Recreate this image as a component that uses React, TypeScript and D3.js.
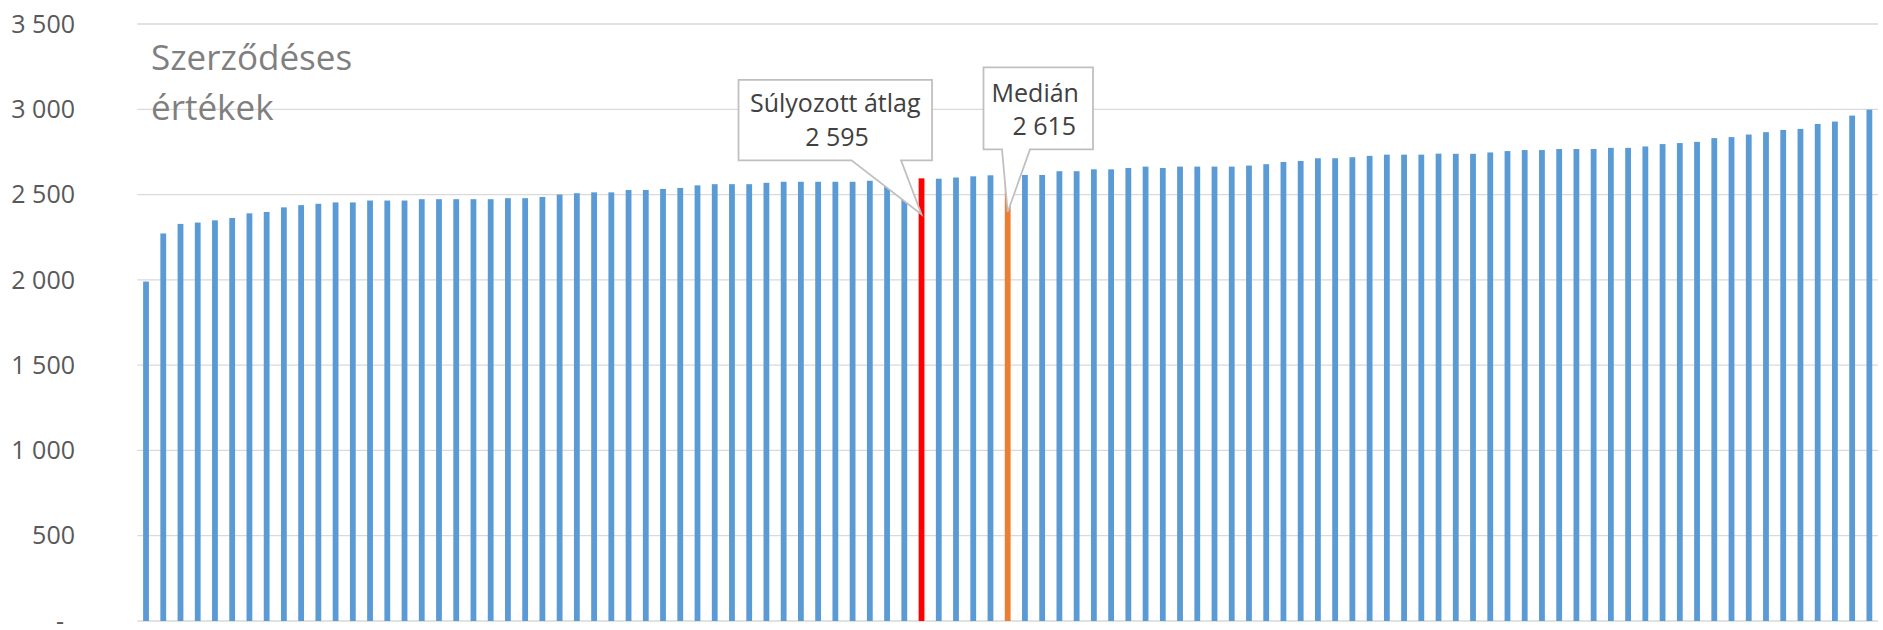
import React from 'react';
import * as d3 from 'd3';

// ---- data ----
const values: number[] = [
  1990, 2272, 2328, 2336, 2349, 2363, 2390, 2398, 2425, 2438,
  2446, 2454, 2454, 2465, 2465, 2465, 2473, 2473, 2473, 2473,
  2473, 2479, 2479, 2486, 2500, 2508, 2513, 2513, 2527, 2527,
  2533, 2539, 2554, 2561, 2561, 2561, 2569, 2575, 2575, 2575,
  2575, 2575, 2581, 2585, 2590, 2595, 2593, 2600, 2607, 2613,
  2615, 2615, 2615, 2637, 2637, 2648, 2648, 2656, 2664, 2656,
  2664, 2664, 2664, 2664, 2670, 2678, 2691, 2697, 2713, 2713,
  2719, 2727, 2734, 2734, 2734, 2740, 2739, 2739, 2747, 2755,
  2761, 2761, 2767, 2767, 2767, 2774, 2774, 2782, 2796, 2802,
  2809, 2831, 2837, 2852, 2866, 2879, 2885, 2914, 2928, 2963,
  2998,
];
const yTicks: number[] = [0, 500, 1000, 1500, 2000, 2500, 3000, 3500];
const titleLines: string[] = ['Szerződéses', 'értékek'];
const avgIndex = 45;
const medianIndex = 50;
const avgLabel: string[] = ['Súlyozott átlag', '2 595'];
const medianLabel: string[] = ['Medián', '2 615'];

const W = 1883;
const H = 630;
const FONT = "'Open Sans', 'Noto Sans', sans-serif";

const locale = d3.formatLocale({ decimal: ',', thousands: ' ', grouping: [3], currency: ['', ''] });
const fmt = (v: number) => (v === 0 ? '-' : locale.format(',')(v));

function calloutPath(x0: number, y0: number, x1: number, y1: number, bl: number, br: number, tx: number, ty: number) {
  const p = d3.path();
  p.moveTo(x0, y0);
  p.lineTo(x1, y0);
  p.lineTo(x1, y1);
  p.lineTo(br, y1);
  p.lineTo(tx, ty);
  p.lineTo(bl, y1);
  p.lineTo(x0, y1);
  p.closePath();
  return p.toString();
}

export default function App() {
  const x = d3.scaleBand<number>().domain(d3.range(values.length)).range([137.4, 1878]).padding(0);
  const y = d3.scaleLinear().domain([0, 3500]).range([621, 24]);
  const step = x.step();
  const barW = 5.8;
  const cx = (i: number) => (x(i) as number) + step / 2;
  const color = (i: number) => (i === avgIndex ? '#FF0000' : i === medianIndex ? '#ED7D31' : '#5B9BD5');

  // callout 1 (weighted average)
  const t1x = cx(avgIndex);
  const t1y = y(values[avgIndex]) + 36;
  const b1 = { x0: t1x - 183, x1: t1x + 10.5, y0: t1y - 134.4, y1: t1y - 54 };
  const p1 = calloutPath(b1.x0, b1.y0, b1.x1, b1.y1, t1x - 70, t1x - 20.5, t1x, t1y);
  const c1 = (b1.x0 + b1.x1) / 2;

  // callout 2 (median)
  const t2x = cx(medianIndex);
  const t2y = y(values[medianIndex]) + 37;
  const b2 = { x0: t2x - 24.2, x1: t2x + 85.3, y0: t2y - 144.5, y1: t2y - 62.5 };
  const p2 = calloutPath(b2.x0, b2.y0, b2.x1, b2.y1, t2x - 5.7, t2x + 22.3, t2x, t2y);
  const c2 = (b2.x0 + b2.x1) / 2;

  const [xr0, xr1] = x.range();

  return (
    <svg width={W} height={H} style={{ position: 'absolute', left: 0, top: 0, background: '#fff' }} fontFamily={FONT}>
      {/* gridlines */}
      {yTicks.map((t) => (
        <line key={t} x1={xr0} x2={xr1} y1={y(t)} y2={y(t)} stroke="#D9D9D9" strokeWidth={t === 0 ? 1.6 : 1.3} />
      ))}
      {/* y labels */}
      {yTicks.map((t) => (
        <text key={'l' + t} x={t === 0 ? 64 : 75} y={y(t)} dy="0.35em" textAnchor="end" fontSize={25} fill="#595959">
          {fmt(t)}
        </text>
      ))}
      {/* title */}
      {titleLines.map((s, i) => (
        <text key={s} x={151} y={70 + i * 50} fontSize={35} fill="#7F7F7F">
          {s}
        </text>
      ))}
      {/* bars */}
      {values.map((v, i) => (
        <rect key={i} x={cx(i) - barW / 2} y={y(v)} width={barW} height={y(0) - y(v)} fill={color(i)} />
      ))}
      {/* callouts */}
      <path d={p1} fill="#fff" stroke="#BFBFBF" strokeWidth={1.75} strokeLinejoin="miter" />
      <text x={c1} y={b1.y0 + 31.7} textAnchor="middle" fontSize={25} fill="#404040">{avgLabel[0]}</text>
      <text x={c1 + 1.7} y={b1.y0 + 66} textAnchor="middle" fontSize={25} fill="#404040">{avgLabel[1]}</text>
      <path d={p2} fill="#fff" stroke="#BFBFBF" strokeWidth={1.75} strokeLinejoin="miter" />
      <text x={c2 - 3} y={b2.y0 + 34.2} textAnchor="middle" fontSize={25} fill="#404040">{medianLabel[0]}</text>
      <text x={c2 + 6} y={b2.y0 + 67.5} textAnchor="middle" fontSize={25} fill="#404040">{medianLabel[1]}</text>
    </svg>
  );
}
